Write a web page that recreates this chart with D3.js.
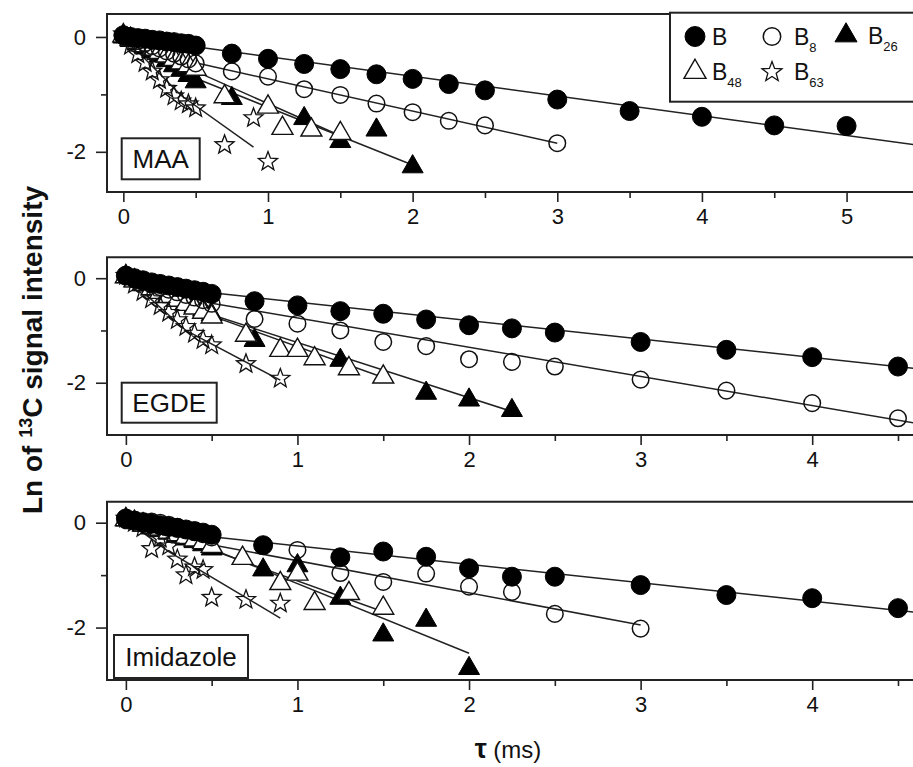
<!DOCTYPE html>
<html><head><meta charset="utf-8">
<script src="https://cdn.jsdelivr.net/npm/d3@7"></script>
<style>body{margin:0;background:#fff}svg{display:block}text{font-family:"Liberation Sans",Arial,sans-serif;fill:#111}</style>
</head><body><svg id="c" width="913" height="767"></svg>
<script>
// ---------- DATA ----------
const panelNames = ["MAA", "EGDE", "Imidazole"];
const seriesNames = ["B", "B8", "B26", "B48", "B63"];
const legendLabels = [["B",""],["B","8"],["B","26"],["B","48"],["B","63"]];
const xTicksP1 = [0,1,2,3,4,5];
const xTicksP23 = [0,1,2,3,4];
const yTickLabels = [0,-2];

// MAA
const maaB_t  = [0,0.05,0.1,0.15,0.2,0.25,0.3,0.35,0.4,0.45,0.5,0.75,1,1.25,1.5,1.75,2,2.25,2.5,3,3.5,4,4.5,5];
const maaB_y  = [0.03,0.0,-0.02,-0.03,-0.05,-0.06,-0.08,-0.09,-0.11,-0.12,-0.15,-0.29,-0.38,-0.47,-0.56,-0.65,-0.73,-0.82,-0.93,-1.09,-1.29,-1.39,-1.54,-1.55];
const maaB8_t = [0,0.05,0.1,0.15,0.2,0.25,0.3,0.35,0.4,0.45,0.5,0.75,1,1.25,1.5,1.75,2,2.25,2.5,3];
const maaB8_y = [0.02,-0.03,-0.07,-0.11,-0.16,-0.2,-0.25,-0.29,-0.34,-0.39,-0.46,-0.6,-0.69,-0.91,-1.01,-1.16,-1.31,-1.46,-1.54,-1.85];
const maaB26_t = [0,0.05,0.1,0.15,0.2,0.25,0.3,0.35,0.4,0.45,0.5,0.75,1.25,1.5,1.75,2];
const maaB26_y = [0,-0.06,-0.12,-0.19,-0.26,-0.33,-0.41,-0.5,-0.58,-0.67,-0.78,-1.07,-1.42,-1.82,-1.62,-2.26];
const maaB48_t = [0,0.05,0.1,0.15,0.2,0.25,0.3,0.35,0.4,0.45,0.5,0.7,1,1.1,1.3,1.5];
const maaB48_y = [0.02,-0.04,-0.1,-0.15,-0.21,-0.27,-0.33,-0.39,-0.45,-0.5,-0.56,-1.04,-1.22,-1.59,-1.62,-1.68];
const maaB63_t = [0,0.05,0.1,0.15,0.2,0.25,0.3,0.35,0.4,0.45,0.5,0.7,0.9,1];
const maaB63_y = [0.05,-0.15,-0.3,-0.45,-0.6,-0.75,-0.9,-1.03,-1.12,-1.17,-1.24,-1.88,-1.41,-2.17];
const maaFitB   = [[0,0.02],[0.5,-0.17],[5.48,-1.88]];
const maaFitB8  = [[0,0.02],[0.5,-0.45],[3,-1.85]];
const maaFitB26 = [[0,0],[0.5,-0.72],[2,-2.23]];
const maaFitB48 = [[0,0],[0.5,-0.6],[1.5,-1.72]];
const maaFitB63 = [[0,0],[0.4,-1.02],[0.9,-1.92]];

// EGDE
const egdeB_t  = [0,0.05,0.1,0.15,0.2,0.25,0.3,0.35,0.4,0.45,0.5,0.75,1,1.25,1.5,1.75,2,2.25,2.5,3,3.5,4,4.5];
const egdeB_y  = [0.05,0.0,-0.04,-0.08,-0.11,-0.14,-0.17,-0.2,-0.23,-0.26,-0.3,-0.44,-0.52,-0.63,-0.68,-0.79,-0.9,-0.96,-1.04,-1.22,-1.37,-1.51,-1.69];
const egdeB8_t = [0,0.05,0.1,0.15,0.2,0.25,0.3,0.35,0.4,0.45,0.5,0.75,1,1.25,1.5,1.75,2,2.25,2.5,3,3.5,4,4.5];
const egdeB8_y = [0.04,-0.02,-0.07,-0.12,-0.17,-0.22,-0.27,-0.32,-0.37,-0.42,-0.49,-0.78,-0.87,-1.0,-1.22,-1.3,-1.55,-1.6,-1.69,-1.94,-2.15,-2.39,-2.68];
const egdeB26_t = [0,0.05,0.1,0.15,0.2,0.25,0.3,0.35,0.4,0.45,0.5,0.75,1.25,1.75,2,2.25];
const egdeB26_y = [0.03,-0.05,-0.12,-0.19,-0.26,-0.33,-0.4,-0.47,-0.54,-0.61,-0.7,-1.19,-1.57,-2.2,-2.33,-2.53];
const egdeB48_t = [0,0.05,0.1,0.15,0.2,0.25,0.3,0.35,0.4,0.45,0.5,0.7,0.9,1,1.1,1.3,1.5];
const egdeB48_y = [0.03,-0.05,-0.12,-0.2,-0.27,-0.35,-0.42,-0.5,-0.57,-0.65,-0.74,-1.09,-1.38,-1.38,-1.54,-1.73,-1.89];
const egdeB63_t = [0,0.05,0.1,0.15,0.2,0.25,0.3,0.35,0.4,0.45,0.5,0.7,0.9];
const egdeB63_y = [0.05,-0.12,-0.26,-0.4,-0.53,-0.66,-0.8,-0.93,-1.06,-1.18,-1.28,-1.64,-1.92];
const egdeFitB   = [[0,0.03],[0.5,-0.28],[4.61,-1.73]];
const egdeFitB8  = [[0,0.03],[0.5,-0.48],[4.61,-2.78]];
const egdeFitB26 = [[0,0.02],[0.5,-0.7],[2.25,-2.55]];
const egdeFitB48 = [[0,0.02],[0.5,-0.72],[1.5,-1.9]];
const egdeFitB63 = [[0,0.03],[0.35,-1.0],[0.9,-1.95]];

// Imidazole
const imB_t  = [0,0.05,0.1,0.15,0.2,0.25,0.3,0.35,0.4,0.45,0.5,0.8,1.25,1.5,1.75,2,2.25,2.5,3,3.5,4,4.5];
const imB_y  = [0.08,0.04,0.0,-0.02,-0.05,-0.08,-0.1,-0.13,-0.16,-0.19,-0.23,-0.43,-0.66,-0.55,-0.65,-0.87,-1.03,-1.03,-1.19,-1.38,-1.44,-1.63];
const imB8_t = [0,0.05,0.1,0.15,0.2,0.25,0.3,0.35,0.4,0.45,0.5,1,1.25,1.5,1.75,2,2.25,2.5,3];
const imB8_y = [0.05,0.04,0.03,0.02,0.0,-0.04,-0.08,-0.13,-0.18,-0.22,-0.28,-0.52,-0.96,-1.13,-0.97,-1.22,-1.32,-1.74,-2.02];
const imB26_t = [0,0.05,0.1,0.15,0.2,0.25,0.3,0.35,0.4,0.45,0.5,0.8,1,1.25,1.5,1.75,2];
const imB26_y = [0.05,0.0,-0.05,-0.1,-0.15,-0.2,-0.26,-0.31,-0.36,-0.42,-0.5,-0.9,-0.82,-1.44,-2.14,-1.86,-2.78];
const imB48_t = [0,0.05,0.1,0.15,0.2,0.25,0.3,0.35,0.4,0.45,0.5,0.68,0.9,1,1.1,1.3,1.5];
const imB48_y = [0.06,0.01,-0.04,-0.08,-0.13,-0.18,-0.23,-0.28,-0.33,-0.38,-0.45,-0.68,-1.16,-0.98,-1.54,-1.35,-1.63];
const imB63_t = [0,0.05,0.1,0.15,0.2,0.25,0.3,0.35,0.4,0.45,0.5,0.7,0.9];
const imB63_y = [0.08,0.0,-0.1,-0.5,-0.3,-0.45,-0.7,-1.0,-0.85,-0.9,-1.43,-1.47,-1.54];
const imFitB   = [[0,0.05],[0.5,-0.27],[4.61,-1.71]];
const imFitB8  = [[0,0.05],[0.5,-0.42],[3,-1.95]];
const imFitB26 = [[0,0.02],[0.5,-0.5],[2,-2.49]];
const imFitB48 = [[0,0.03],[0.5,-0.52],[1.5,-1.7]];
const imFitB63 = [[0,0.05],[0.25,-0.55],[0.9,-1.82]];

// ---------- BUILD ----------
const panels = [
  {name: panelNames[0], xDom:[-0.113,5.48], yDom:[-2.7,0.4], yRange:[192,14], xTicks:xTicksP1, xMinor:[0.5,1.5,2.5,3.5,4.5],
   label:{x:121.7,y:138.3,w:78,h:41},
   series:{B:[maaB_t,maaB_y],B8:[maaB8_t,maaB8_y],B26:[maaB26_t,maaB26_y],B48:[maaB48_t,maaB48_y],B63:[maaB63_t,maaB63_y]},
   fits:{B:maaFitB,B8:maaFitB8,B26:maaFitB26,B48:maaFitB48,B63:maaFitB63}},
  {name: panelNames[1], xDom:[-0.11,4.605], yDom:[-3,0.4], yRange:[435,257.3], xTicks:xTicksP23, xMinor:[0.5,1.5,2.5,3.5,4.5],
   label:{x:121.7,y:382.7,w:95,h:40},
   series:{B:[egdeB_t,egdeB_y],B8:[egdeB8_t,egdeB8_y],B26:[egdeB26_t,egdeB26_y],B48:[egdeB48_t,egdeB48_y],B63:[egdeB63_t,egdeB63_y]},
   fits:{B:egdeFitB,B8:egdeFitB8,B26:egdeFitB26,B48:egdeFitB48,B63:egdeFitB63}},
  {name: panelNames[2], xDom:[-0.11,4.605], yDom:[-3,0.4], yRange:[680,501.7], xTicks:xTicksP23, xMinor:[0.5,1.5,2.5,3.5,4.5],
   label:{x:114,y:635,w:134,h:43},
   series:{B:[imB_t,imB_y],B8:[imB8_t,imB8_y],B26:[imB26_t,imB26_y],B48:[imB48_t,imB48_y],B63:[imB63_t,imB63_y]},
   fits:{B:imFitB,B8:imFitB8,B26:imFitB26,B48:imFitB48,B63:imFitB63}}
];

function starPath(R){
  const r = R*0.42; let p = "";
  for(let i=0;i<10;i++){
    const a = -Math.PI/2 + i*Math.PI/5, rr = i%2===0?R:r;
    p += (i===0?"M":"L") + (rr*Math.cos(a)).toFixed(2) + "," + (rr*Math.sin(a)).toFixed(2);
  }
  return p + "Z";
}
function triPath(s){
  const h = s*0.866;
  return `M0,${-h*2/3}L${s/2},${h/3}L${-s/2},${h/3}Z`;
}
const markerStyle = {
  B:   {d: null, r:9.5, fill:"#000", stroke:"#000", sw:1},
  B8:  {d: null, r:8.3, fill:"none", stroke:"#111", sw:1.5},
  B26: {d: triPath(21), fill:"#000", stroke:"#000", sw:1},
  B48: {d: triPath(21), fill:"#fff", stroke:"#111", sw:1.4},
  B63: {d: starPath(10), fill:"none", stroke:"#111", sw:1.3}
};
const drawOrder = ["B26","B48","B63","B8","B"];

const svg = d3.select("#c");
svg.append("rect").attr("width",913).attr("height",767).attr("fill","#fff");

function drawMarker(g, key, cx, cy, scale){
  const st = markerStyle[key]; scale = scale||1;
  if(st.d===null){
    g.append("circle").attr("cx",cx).attr("cy",cy).attr("r",st.r*scale)
      .attr("fill",st.fill).attr("stroke",st.stroke).attr("stroke-width",st.sw);
  } else {
    g.append("path").attr("d",st.d).attr("transform",`translate(${cx},${cy}) scale(${scale})`)
      .attr("fill",st.fill).attr("stroke",st.stroke).attr("stroke-width",st.sw/scale);
  }
}

panels.forEach(p=>{
  const x = d3.scaleLinear().domain(p.xDom).range([107,916]);
  const y = d3.scaleLinear().domain(p.yDom).range(p.yRange);
  const g = svg.append("g");
  const clipId = "clip"+p.name;
  svg.append("clipPath").attr("id",clipId).append("rect")
    .attr("x",107).attr("y",p.yRange[1]).attr("width",809).attr("height",p.yRange[0]-p.yRange[1]);

  const line = d3.line().x(d=>x(d[0])).y(d=>y(d[1]));
  const lg = g.append("g").attr("clip-path",`url(#${clipId})`);
  seriesNames.forEach(k=>{
    lg.append("path").attr("d",line(p.fits[k])).attr("fill","none").attr("stroke","#222").attr("stroke-width",1.5);
  });
  const mg = g.append("g");
  drawOrder.forEach(k=>{
    const [ts, ys] = p.series[k];
    ts.forEach((t,i)=>drawMarker(mg,k,x(t),y(ys[i])));
  });

  const top = p.yRange[1], bot = p.yRange[0];
  g.append("path").attr("d",`M916,${top}H107V${bot}H916`).attr("fill","none").attr("stroke","#222").attr("stroke-width",2);

  const yAx = g.append("g").attr("transform","translate(107,0)")
    .call(d3.axisLeft(y).tickValues(yTickLabels).tickSize(11).tickPadding(10).tickFormat(d=>String(d)));
  const yMin = g.append("g").attr("transform","translate(107,0)")
    .call(d3.axisLeft(y).tickValues([-1]).tickSize(6).tickFormat(""));
  const xAx = g.append("g").attr("transform",`translate(0,${bot})`)
    .call(d3.axisBottom(x).tickValues(p.xTicks).tickSize(10).tickPadding(6).tickFormat(d=>String(d)));
  const xMin = g.append("g").attr("transform",`translate(0,${bot})`)
    .call(d3.axisBottom(x).tickValues(p.xMinor).tickSize(6).tickFormat(""));
  [yAx,yMin,xAx,xMin].forEach(a=>{
    a.select(".domain").remove();
    a.selectAll("line").attr("stroke","#222").attr("stroke-width",1.6);
    a.selectAll("text").attr("font-size",22).attr("font-family","'Liberation Sans',Arial,sans-serif").attr("fill","#111");
  });

  g.append("rect").attr("x",p.label.x).attr("y",p.label.y).attr("width",p.label.w).attr("height",p.label.h)
    .attr("fill","#fff").attr("stroke","#222").attr("stroke-width",2);
  g.append("text").attr("x",p.label.x+p.label.w/2).attr("y",p.label.y+p.label.h/2+9)
    .attr("text-anchor","middle").attr("font-size",26).text(p.name);
});

// legend
const leg = svg.append("g");
leg.append("rect").attr("x",670).attr("y",12.7).attr("width",260).attr("height",89)
  .attr("fill","#fff").attr("stroke","#222").attr("stroke-width",2);
const legPos = [[695,36.5,712],[772,36.5,794],[846,35.5,868],[695,72,712],[772,72,794]];
seriesNames.forEach((k,i)=>{
  const [mx,my,tx] = legPos[i];
  drawMarker(leg,k,mx,my,1.05);
  const t = leg.append("text").attr("x",tx).attr("y",my+8).attr("font-size",23);
  t.append("tspan").text(legendLabels[i][0]);
  if(legendLabels[i][1]) t.append("tspan").attr("dy",7).attr("font-size",13).text(legendLabels[i][1]);
});

// axis titles
const yt = svg.append("text").attr("transform","translate(42,350) rotate(-90)").attr("text-anchor","middle")
  .attr("font-size",28).attr("font-weight","bold");
yt.append("tspan").text("Ln of ");
yt.append("tspan").attr("dy",-10).attr("font-size",18).text("13");
yt.append("tspan").attr("dy",10).text("C signal intensity");

const xt = svg.append("text").attr("x",508).attr("y",758).attr("text-anchor","middle").attr("font-size",24);
xt.append("tspan").attr("font-weight","bold").attr("font-size",27).text("τ");
xt.append("tspan").text(" (ms)");
</script></body></html>
